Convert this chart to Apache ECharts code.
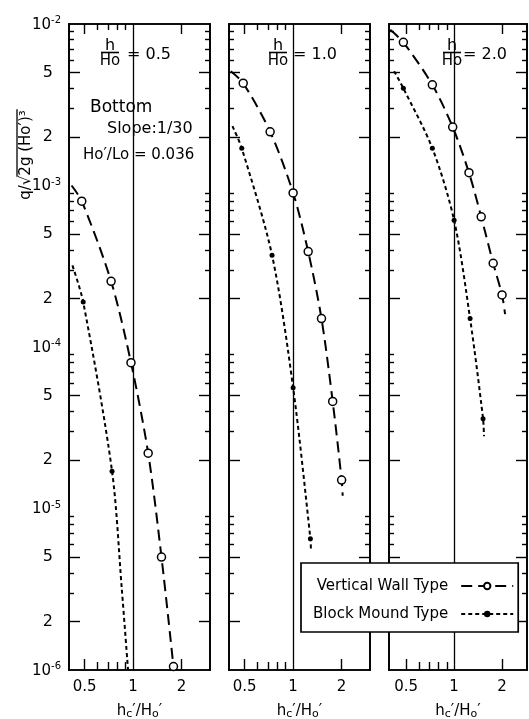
<!DOCTYPE html>
<html><head><meta charset="utf-8">
<script src="https://cdn.jsdelivr.net/npm/echarts@6/dist/echarts.min.js"></script>
<style>html,body{margin:0;padding:0;background:#fff}#c{width:529px;height:719px}</style>
</head><body><div id="c"></div>
<script>
const FONT = 'DejaVu Sans';

// ---- panel labels (h/Ho) ----
const panelRatios = ['0.5', '1.0', '2.0'];

// ---- tick values / labels ----
const xTickLabels = [0.5, 1, 2];
const xMajorTicks = [0.5, 2];
const xMinorTicks = [0.6, 0.7, 0.8, 0.9];
const yTickLabels = [1e-6, 2e-6, 5e-6, 1e-5, 2e-5, 5e-5, 1e-4, 2e-4, 5e-4, 1e-3, 2e-3, 5e-3, 1e-2];
const yMajorTicks = [2e-6, 5e-6, 2e-5, 5e-5, 2e-4, 5e-4, 2e-3, 5e-3];
const yMinorTicks = [3e-6, 4e-6, 6e-6, 7e-6, 8e-6, 9e-6,
                     3e-5, 4e-5, 6e-5, 7e-5, 8e-5, 9e-5,
                     3e-4, 4e-4, 6e-4, 7e-4, 8e-4, 9e-4,
                     3e-3, 4e-3, 6e-3, 7e-3, 8e-3, 9e-3];
const refLinesQ = [1e-3, 1e-4, 1e-5];
const refLinesX = [1];

// ---- Panel h/Ho = 0.5 ----
const wall05_x = [0.48, 0.73, 0.97, 1.24, 1.50, 1.78];
const wall05_q = [8.0e-4, 2.55e-4, 8.0e-5, 2.2e-5, 5.0e-6, 1.05e-6];
const wall05_headX = [0.415], wall05_headQ = [1.0e-3];
const wall05_tailX = [], wall05_tailQ = [];
const mound05_x = [0.49, 0.74];
const mound05_q = [1.9e-4, 1.7e-5];
const mound05_headX = [0.42], mound05_headQ = [3.2e-4];
const mound05_tailX = [0.85, 0.93], mound05_tailQ = [3.2e-6, 1.0e-6];

// ---- Panel h/Ho = 1.0 ----
const wall10_x = [0.49, 0.72, 1.0, 1.24, 1.50, 1.76, 2.0];
const wall10_q = [4.3e-3, 2.15e-3, 9.0e-4, 3.9e-4, 1.5e-4, 4.6e-5, 1.5e-5];
const wall10_headX = [0.41], wall10_headQ = [5.1e-3];
const wall10_tailX = [2.03], wall10_tailQ = [1.2e-5];
const mound10_x = [0.48, 0.74, 1.0, 1.28];
const mound10_q = [1.7e-3, 3.7e-4, 5.6e-5, 6.5e-6];
const mound10_headX = [0.42], mound10_headQ = [2.33e-3];
const mound10_tailX = [1.29], mound10_tailQ = [5.5e-6];

// ---- Panel h/Ho = 2.0 ----
const wall20_x = [0.48, 0.73, 0.98, 1.24, 1.48, 1.76, 2.0];
const wall20_q = [7.7e-3, 4.2e-3, 2.3e-3, 1.2e-3, 6.4e-4, 3.3e-4, 2.1e-4];
const wall20_headX = [0.397], wall20_headQ = [9.2e-3];
const wall20_tailX = [2.09], wall20_tailQ = [1.6e-4];
const mound20_x = [0.48, 0.73, 1.0, 1.26, 1.52];
const mound20_q = [4.0e-3, 1.7e-3, 6.1e-4, 1.5e-4, 3.6e-5];
const mound20_headX = [0.42], mound20_headQ = [5.1e-3];
const mound20_tailX = [1.54], mound20_tailQ = [2.8e-5];

const wallSets = [
  [wall05_headX, wall05_headQ, wall05_x, wall05_q, wall05_tailX, wall05_tailQ],
  [wall10_headX, wall10_headQ, wall10_x, wall10_q, wall10_tailX, wall10_tailQ],
  [wall20_headX, wall20_headQ, wall20_x, wall20_q, wall20_tailX, wall20_tailQ]
];
const moundSets = [
  [mound05_headX, mound05_headQ, mound05_x, mound05_q, mound05_tailX, mound05_tailQ],
  [mound10_headX, mound10_headQ, mound10_x, mound10_q, mound10_tailX, mound10_tailQ],
  [mound20_headX, mound20_headQ, mound20_x, mound20_q, mound20_tailX, mound20_tailQ]
];

// ---- layout ----
const grids = [
  {left: 69, top: 24, width: 141, height: 646, outerBoundsMode: 'none', containLabel: false},
  {left: 229, top: 24, width: 141, height: 646, outerBoundsMode: 'none', containLabel: false},
  {left: 389, top: 24, width: 138, height: 646, outerBoundsMode: 'none', containLabel: false}
];
const xMins = [0.4, 0.4, 0.39], xMaxs = [3.0, 3.0, 2.87];

function buildData(set) {
  const [hx, hq, mx, mq, tx, tq] = set;
  const out = [];
  hx.forEach((x, i) => out.push({value: [x, hq[i]], symbol: 'none'}));
  mx.forEach((x, i) => out.push({value: [x, mq[i]]}));
  tx.forEach((x, i) => out.push({value: [x, tq[i]], symbol: 'none'}));
  return out;
}

function fmtY(v) {
  const e = Math.floor(Math.log10(v) + 1e-9);
  const m = Math.round(v / Math.pow(10, e));
  if (m === 1) return '{b|10}{s|' + e + '}';
  return '{d|' + m + '}';
}
function fmtX(v) { return String(Math.round(v * 10) / 10); }

const black = '#000';
const axisLine = {show: true, onZero: false, lineStyle: {color: black, width: 1.7}};
const xAxes = [], yAxes = [], series = [], graphics = [];

grids.forEach((g, p) => {
  const base = {type: 'log', logBase: 10, gridIndex: p, min: xMins[p], max: xMaxs[p],
                axisLine: axisLine, splitLine: {show: false}, minorTick: {show: false}};
  xAxes.push(Object.assign({}, base, {
    position: 'bottom',
    axisTick: {show: true, inside: true, length: 11, customValues: xMajorTicks, lineStyle: {color: black, width: 1.4}},
    axisLabel: {show: true, customValues: xTickLabels, formatter: fmtX, margin: 10,
                fontFamily: FONT, fontSize: 15, color: black},
    name: 'h{sb|c}\u2032/H{sb|o}\u2032', nameLocation: 'middle', nameGap: 33,
    nameTextStyle: {fontFamily: FONT, fontSize: 15, color: black,
      rich: {sb: {fontFamily: FONT, fontSize: 11, color: black, padding: [6, 0, 0, 0]}}}
  }));
  xAxes.push(Object.assign({}, base, {
    position: 'bottom',
    axisTick: {show: true, inside: true, length: 8, customValues: xMinorTicks, lineStyle: {color: black, width: 1.4}},
    axisLabel: {show: false}
  }));
  xAxes.push(Object.assign({}, base, {
    position: 'top',
    axisTick: {show: true, inside: true, length: 10, customValues: xMajorTicks, lineStyle: {color: black, width: 1.4}},
    axisLabel: {show: false}
  }));
  xAxes.push(Object.assign({}, base, {
    position: 'top',
    axisTick: {show: true, inside: true, length: 6, customValues: xMinorTicks, lineStyle: {color: black, width: 1.4}},
    axisLabel: {show: false}
  }));

  const ybase = {type: 'log', logBase: 10, gridIndex: p, min: 1e-6, max: 1e-2,
                 axisLine: axisLine, splitLine: {show: false}, minorTick: {show: false}};
  yAxes.push(Object.assign({}, ybase, {
    position: 'left',
    axisTick: {show: true, inside: true, length: 11, customValues: yMajorTicks, lineStyle: {color: black, width: 1.4}},
    axisLabel: {show: p === 0, customValues: yTickLabels, formatter: fmtY, margin: 8,
      rich: {
        b: {fontFamily: FONT, fontSize: 15, color: black, lineHeight: 17, verticalAlign: 'bottom'},
        s: {fontFamily: FONT, fontSize: 10, color: black, lineHeight: 10, verticalAlign: 'top'},
        d: {fontFamily: FONT, fontSize: 16, color: black, padding: [0, 8, 0, 0]}
      }}
  }));
  yAxes.push(Object.assign({}, ybase, {
    position: 'left',
    axisTick: {show: true, inside: true, length: 5, customValues: yMinorTicks, lineStyle: {color: black, width: 1.4}},
    axisLabel: {show: false}
  }));
  yAxes.push(Object.assign({}, ybase, {
    position: 'right',
    axisTick: {show: true, inside: true, length: 11, customValues: yMajorTicks, lineStyle: {color: black, width: 1.4}},
    axisLabel: {show: false}
  }));
  yAxes.push(Object.assign({}, ybase, {
    position: 'right',
    axisTick: {show: true, inside: true, length: 5, customValues: yMinorTicks, lineStyle: {color: black, width: 1.4}},
    axisLabel: {show: false}
  }));

  const mlData = refLinesX.map(v => ({xAxis: v})).concat(refLinesQ.map(v => ({yAxis: v})));
  series.push({
    type: 'line', name: 'Vertical Wall Type', xAxisIndex: p * 4, yAxisIndex: p * 4,
    data: buildData(wallSets[p]), smooth: 0.3, symbol: 'circle', symbolSize: 8,
    itemStyle: {color: '#fff', borderColor: black, borderWidth: 1.5},
    lineStyle: {color: black, width: 2, type: [11, 6]},
    z: 5, animation: false,
    markLine: {silent: true, symbol: ['none', 'none'], label: {show: false}, animation: false,
               lineStyle: {color: black, width: 1.3, type: 'solid'}, data: mlData}
  });
  series.push({
    type: 'line', name: 'Block Mound Type', xAxisIndex: p * 4, yAxisIndex: p * 4,
    data: buildData(moundSets[p]), smooth: 0.3, symbol: 'circle', symbolSize: 5,
    itemStyle: {color: black, borderColor: black, borderWidth: 0},
    lineStyle: {color: black, width: 2, type: [4, 3]},
    z: 4, animation: false
  });
});

// panel headers h/Ho = value
const hdrX = [110, 278, 452];
const hdrEqX = [127, 293, 463];
panelRatios.forEach((r, p) => {
  const cx = hdrX[p];
  graphics.push({type: 'text', x: cx, y: 46, style: {text: 'h', font: '16px ' + FONT, fill: black, align: 'center', verticalAlign: 'middle'}});
  graphics.push({type: 'line', shape: {x1: cx - 9, y1: 52.5, x2: cx + 9, y2: 52.5}, style: {stroke: black, lineWidth: 1.6}});
  graphics.push({type: 'text', x: cx, y: 61, style: {text: 'Ho', font: '15px ' + FONT, fill: black, align: 'center', verticalAlign: 'middle'}});
  graphics.push({type: 'text', x: hdrEqX[p], y: 55, style: {text: '= ' + r, font: '16px ' + FONT, fill: black, align: 'left', verticalAlign: 'middle'}});
});
graphics.push({type: 'text', x: 90, y: 108, style: {text: 'Bottom', font: '17px ' + FONT, fill: black, verticalAlign: 'middle'}});
graphics.push({type: 'text', x: 107, y: 129, style: {text: 'Slope:1/30', font: '16px ' + FONT, fill: black, verticalAlign: 'middle'}});
graphics.push({type: 'text', x: 83, y: 155, style: {text: 'Ho\u2032/Lo = 0.036', font: '15px ' + FONT, fill: black, verticalAlign: 'middle'}});

// y-axis name (rotated, with radical overline)
const yNameFont = '15px ' + FONT;
const yNameA = 'q/\u221A', yNameB = '2g (Ho\u2032)\u00B3';
const mctx = document.createElement('canvas').getContext('2d');
mctx.font = yNameFont;
const wA = mctx.measureText(yNameA).width, wB = mctx.measureText(yNameB).width;
const wT = wA + wB;
graphics.push({type: 'group', x: 26, y: 155, rotation: Math.PI / 2, children: [
  {type: 'text', x: -wT / 2, y: 0, style: {text: yNameA + yNameB, font: yNameFont, fill: black, align: 'left', verticalAlign: 'middle'}},
  {type: 'line', shape: {x1: -wT / 2 + wA - 1, y1: -9, x2: wT / 2 + 1, y2: -9}, style: {stroke: black, lineWidth: 1.3}}
]});

const chart = echarts.init(document.getElementById('c'), null, {renderer: 'canvas'});
chart.setOption({
  animation: false,
  backgroundColor: '#fff',
  grid: grids,
  xAxis: xAxes,
  yAxis: yAxes,
  series: series,
  legend: {
    data: ['Vertical Wall Type', 'Block Mound Type'],
    orient: 'vertical', left: 301, top: 563, align: 'right',
    padding: [14, 4, 9, 12], itemGap: 10, itemWidth: 52, itemHeight: 8,
    backgroundColor: '#fff', borderColor: black, borderWidth: 1.7,
    textStyle: {fontFamily: FONT, fontSize: 15, color: black, lineHeight: 18, padding: [0, 8, 0, 0]},
    z: 10
  },
  graphic: graphics
});
</script></body></html>
